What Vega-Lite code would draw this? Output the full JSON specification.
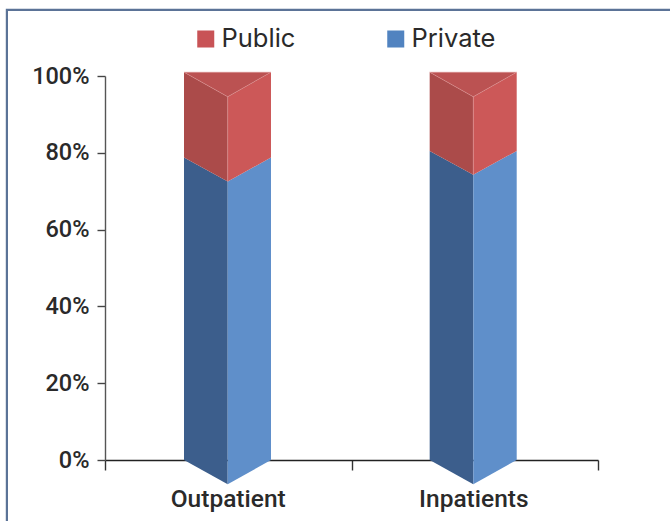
{
"$schema":"https://vega.github.io/schema/vega-lite/v6.json",
"width":493,"height":384,
"autosize":"none",
"padding":{"left":105,"top":76,"right":72,"bottom":61},
"background":"white",
"view":{"stroke":null},
"datasets":{
"faces":[
{"bar":"Outpatient","part":"Private left","x":0.3205,"y":78.8,"y2":0},
{"bar":"Outpatient","part":"Private left","x":0.4978,"y":72.5,"y2":-6.3},
{"bar":"Outpatient","part":"Private right","x":0.4978,"y":72.5,"y2":-6.3},
{"bar":"Outpatient","part":"Private right","x":0.6734,"y":78.8,"y2":0},
{"bar":"Outpatient","part":"Public left","x":0.3205,"y":101,"y2":78.8},
{"bar":"Outpatient","part":"Public left","x":0.4978,"y":94.6,"y2":72.5},
{"bar":"Outpatient","part":"Public right","x":0.4978,"y":94.6,"y2":72.5},
{"bar":"Outpatient","part":"Public right","x":0.6734,"y":101,"y2":78.8},
{"bar":"Outpatient","part":"Public top","x":0.3205,"y":101,"y2":101},
{"bar":"Outpatient","part":"Public top","x":0.4978,"y":101,"y2":94.6},
{"bar":"Outpatient","part":"Public top","x":0.6734,"y":101,"y2":101},
{"bar":"Inpatients","part":"Private left","x":1.3172,"y":80.5,"y2":0},
{"bar":"Inpatients","part":"Private left","x":1.4941,"y":74.3,"y2":-6.3},
{"bar":"Inpatients","part":"Private right","x":1.4941,"y":74.3,"y2":-6.3},
{"bar":"Inpatients","part":"Private right","x":1.6702,"y":80.5,"y2":0},
{"bar":"Inpatients","part":"Public left","x":1.3172,"y":101,"y2":80.5},
{"bar":"Inpatients","part":"Public left","x":1.4941,"y":94.6,"y2":74.3},
{"bar":"Inpatients","part":"Public right","x":1.4941,"y":94.6,"y2":74.3},
{"bar":"Inpatients","part":"Public right","x":1.6702,"y":101,"y2":80.5},
{"bar":"Inpatients","part":"Public top","x":1.3172,"y":101,"y2":101},
{"bar":"Inpatients","part":"Public top","x":1.4941,"y":101,"y2":94.6},
{"bar":"Inpatients","part":"Public top","x":1.6702,"y":101,"y2":101}
],
"edges":[
{"edge":"o1","o":1,"x":0.3205,"y":101},{"edge":"o1","o":2,"x":0.4978,"y":94.6},{"edge":"o1","o":3,"x":0.4978,"y":72.5},
{"edge":"o2","o":1,"x":0.6734,"y":101},{"edge":"o2","o":2,"x":0.4978,"y":94.6},
{"edge":"o3","o":1,"x":0.3205,"y":101},{"edge":"o3","o":2,"x":0.6734,"y":101},
{"edge":"i1","o":1,"x":1.3172,"y":101},{"edge":"i1","o":2,"x":1.4941,"y":94.6},{"edge":"i1","o":3,"x":1.4941,"y":74.3},
{"edge":"i2","o":1,"x":1.6702,"y":101},{"edge":"i2","o":2,"x":1.4941,"y":94.6},
{"edge":"i3","o":1,"x":1.3172,"y":101},{"edge":"i3","o":2,"x":1.6702,"y":101}
],
"frame":[
{"o":1,"x":2.32,"y":117.2},{"o":2,"x":-0.398,"y":117.2},{"o":3,"x":-0.398,"y":-16}
]
},
"layer":[
{"data":{"name":"frame"},
 "mark":{"type":"line","color":"#5b7397","strokeWidth":2.2,"clip":false},
 "encoding":{"x":{"field":"x","type":"quantitative","scale":{"domain":[0,2],"nice":false,"zero":false}},
 "y":{"field":"y","type":"quantitative","scale":{"domain":[0,100],"nice":false}},
 "order":{"field":"o"}}},
{"data":{"name":"faces"},
 "mark":{"type":"area","interpolate":"linear"},
 "encoding":{
 "x":{"field":"x","type":"quantitative","scale":{"domain":[0,2],"nice":false,"zero":false},
  "axis":{"title":null,"values":[0,0.4978,1,1.4941,2],"grid":false,"domainColor":"#222222","domainWidth":1.4,"tickColor":"#333333","tickWidth":1.4,"tickSize":10,
   "tickOpacity":{"condition":{"test":"datum.value==0||datum.value==1||datum.value==2","value":1},"value":0},
   "labelExpr":"datum.value<1&&datum.value>0?'Outpatient':(datum.value>1&&datum.value<2?'Inpatients':'')",
   "labelFont":"Roboto","labelFontSize":24.5,"labelFontWeight":500,"labelColor":"#2a2a2a","labelPadding":17,"labelFlush":false,"labelOverlap":false,"labelBound":false}},
 "y":{"field":"y","type":"quantitative","scale":{"domain":[0,100],"nice":false},
  "axis":{"title":null,"values":[0,20,40,60,80,100],"grid":false,"domainColor":"#555555","domainWidth":1.4,"tickColor":"#444444","tickWidth":1.4,"tickSize":8,
   "labelExpr":"datum.value+'%'","labelFont":"Roboto","labelFontSize":23.5,"labelFontWeight":500,"labelColor":"#2a2a2a","labelPadding":8}},
 "y2":{"field":"y2"},
 "detail":{"field":"bar"},
 "color":{"field":"part","type":"nominal",
  "scale":{"domain":["Public","Private","Public left","Public right","Public top","Private left","Private right"],"range":["#c85356","#5183c0","#ab4b4a","#cc5858","#bb5252","#3c5e8c","#5f8fca"]},
  "legend":{"title":null,"values":["Public","Private"],"orient":"none","legendX":88,"legendY":-52,"columns":2,"columnPadding":87,"symbolType":"square","symbolSize":289,"symbolStrokeWidth":0,"symbolOpacity":1,"labelFont":"Inter","labelFontSize":25.5,"labelColor":"#2a2a2a","labelOffset":3,"clipHeight":30}}
 }},
{"data":{"name":"edges"},
 "mark":{"type":"line","color":"#e39a9a","strokeWidth":0.6,"opacity":0.75,"clip":false},
 "encoding":{"x":{"field":"x","type":"quantitative"},"y":{"field":"y","type":"quantitative"},"detail":{"field":"edge"},"order":{"field":"o"}}}
],
"config":{"axis":{"labelFontWeight":500}}
}
